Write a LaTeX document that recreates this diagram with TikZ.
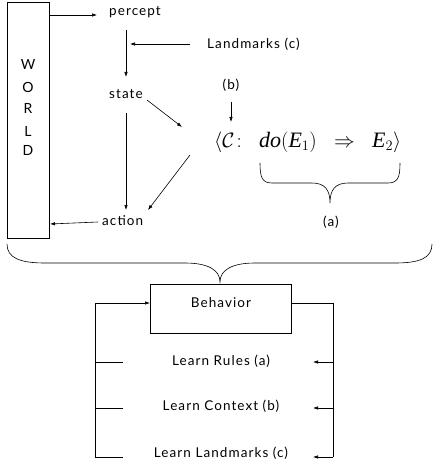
\documentclass[tikz,border=0pt]{standalone}
\usepackage{fontspec}
\setmainfont{Lato}[LetterSpace=8]
\newfontfamily\tnr{Liberation Serif}
\usetikzlibrary{arrows.meta}
\begin{document}
\begin{tikzpicture}[x=1pt,y=-1pt,
  every node/.style={font=\fontsize{13.5}{15}\selectfont},
  arr/.style={-{Latex[length=5pt,width=3.5pt]},line width=0.6pt},
  ln/.style={line width=0.6pt},
  boxst/.style={draw,line width=0.7pt}]
\useasboundingbox (0,0) rectangle (432,465);
% World box
\node[boxst,minimum width=42pt,minimum height=236pt,anchor=north west,inner sep=0] (world) at (7,2) {};
\foreach \l/\y in {W/64,O/87,R/108,L/131,D/150}{\node[font=\fontsize{14}{16}\selectfont] (w\l) at (28,\y) {\l};}
\node[anchor=west,inner sep=1pt] (percept) at (108,12) {percept};
\node[anchor=west,inner sep=1pt] (state) at (108,94) {state};
\node[anchor=west,inner sep=1pt] (action) at (101,221) {action};
\node[anchor=west,inner sep=1pt] (land) at (206,44) {Landmarks (c)};
\coordinate (pin) at (97,15);
\draw[arr] (world.north east |- pin) -- (pin);
\coordinate (pd1) at (126,30);
\coordinate (pd2) at (126,77);
\draw[arr] (pd1) -- (pd2);
\coordinate (lm) at (130,44);
\draw[arr] (190,44) coordinate (lmstart) -- (lm);
\coordinate (sd1) at (126,113);
\coordinate (sd2) at (126,210);
\draw[arr] (sd1) -- (sd2);
\coordinate (s1) at (147,100);
\coordinate (s2) at (182,127);
\draw[arr] (s1) -- (s2);
\coordinate (f1) at (190,155);
\coordinate (f2) at (148,210);
\draw[arr] (f1) -- (f2);
\coordinate (aw) at (50,224);
\draw[arr] (98,222) coordinate (astart) -- (aw);
% formula
\node[anchor=west,inner sep=0,font=\fontsize{22}{26}\selectfont] (formula) at (214,142)
  {$\bigl\langle\mathcal{C}\!:\;\;\mbox{\tnr\itshape do}(\mbox{\tnr\itshape E}_1)\;\;\Rightarrow\;\;\mbox{\tnr\itshape E}_2\bigr\rangle$};
\node (b) at (231,85) {(b)};
\coordinate (bt) at (231,122);
\draw[arr] (231,102) coordinate (bs) -- (bt);
% small brace
\coordinate (brl) at (260,163);
\coordinate (brr) at (400,163);
\coordinate (brt) at (330,203);
\draw[ln] (brl) .. controls (260,177) and (262,183) .. (272,183) -- (312,183)
  .. controls (325,183) and (330,190) .. (brt)
  .. controls (330,190) and (335,183) .. (348,183) -- (388,183)
  .. controls (398,183) and (400,177) .. (brr);
\node (a) at (331,222) {(a)};
% big brace
\coordinate (bbl) at (7,244);
\coordinate (bbr) at (432,244);
\coordinate (bbt) at (220,282);
\draw[ln] (bbl) .. controls (7,258) and (20,263) .. (45,263) -- (185,263)
  .. controls (208,263) and (220,270) .. (bbt)
  .. controls (220,270) and (232,263) .. (255,263) -- (395,263)
  .. controls (420,263) and (432,258) .. (bbr);
% behavior
\node[boxst,minimum width=141pt,minimum height=49pt,anchor=north west,inner sep=0] (beh) at (150,284) {};
\node (behtxt) at (221,303) {Behavior};
\node (r1) at (221,361) {Learn Rules (a)};
\node (r2) at (221,406) {Learn Context (b)};
\node (r3) at (221,453) {Learn Landmarks (c)};
\coordinate (rt) at (333,303);
\coordinate (rb) at (333,457);
\draw[ln] (beh.east |- rt) -- (rt) -- (rb);
\foreach \y in {362,408}{\draw[arr] (333,\y) -- (313,\y);}
\draw[arr] (rb) -- (313,457);
\coordinate (lt) at (95,303);
\coordinate (lb) at (95,457);
\draw[arr] (lb) -- (lt) -- (beh.west |- lt);
\foreach \y in {362,408}{\draw[ln] (95,\y) -- (123,\y);}
\draw[ln] (lb) -- (123,457);
\end{tikzpicture}
\end{document}
